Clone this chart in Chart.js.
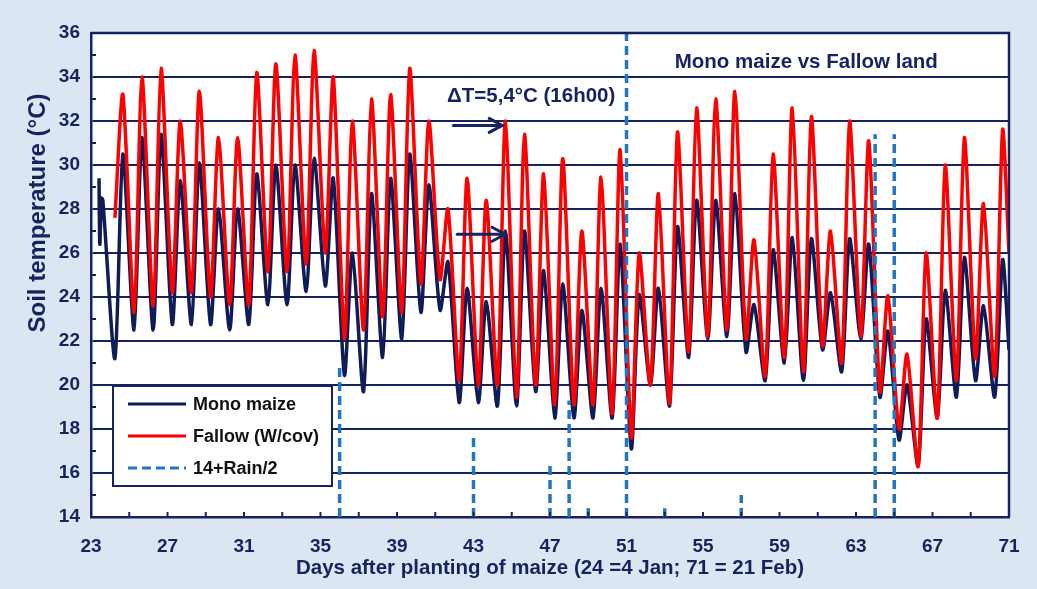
<!DOCTYPE html>
<html>
<head>
<meta charset="utf-8">
<script src="https://cdn.jsdelivr.net/npm/chart.js@4.4.1/dist/chart.umd.min.js"></script>
<style>
  html, body { margin: 0; padding: 0; background: #dce6f2; }
</style>
</head>
<body>
<canvas id="myChart" width="1037" height="589"></canvas>
<script>
// days after planting, one daily cycle each (min ~06h00, max ~16h00)
const days = Array.from({ length: 47 }, (_, i) => 24 + i);   // 24 .. 70

// Mono maize soil temperature (°C)
const maizeMin = [21.2, 22.5, 22.5, 22.75, 22.75, 22.75, 22.5, 22.75, 23.65, 23.65,
                  24.25, 24.5, 20.45, 19.7, 21.25, 22.1, 23.3, 23.4, 19.2, 19.2,
                  19.05, 19.05, 19.7, 18.5, 18.5, 18.5, 18.5, 17.1, 20.0, 19.05,
                  21.25, 22.1, 22.2, 21.5, 20.2, 21.0, 20.2, 21.6, 20.6, 22.1,
                  19.45, 17.5, 16.35, 18.5, 19.45, 20.2, 19.45];
const maizeMax = [30.5, 31.25, 31.4, 29.3, 30.1, 28.0, 28.0, 29.6, 30.0, 30.0,
                  30.3, 29.4, 26.0, 28.7, 29.4, 30.5, 29.1, 25.6, 24.4, 23.8,
                  27.0, 27.0, 25.2, 24.6, 23.4, 24.4, 26.4, 24.1, 24.4, 27.2,
                  28.4, 28.4, 28.7, 23.65, 26.15, 26.7, 26.65, 24.2, 26.65, 26.4,
                  22.45, 20.0, 23.0, 24.3, 25.8, 23.6, 25.7];
// first readings of day 23 and last reading at day 71
const maizeStartX = [23.42, 23.46, 23.55, 23.62];
const maizeStartY = [29.4, 26.4, 28.5, 28.4];
const maizeEnd = 21.6;

// Fallow (without cover) soil temperature (°C)
const fallowMin = [27.6, 23.3, 23.6, 24.2, 24.2, 24.0, 23.65, 23.65, 25.15, 25.15,
                   25.5, 26.0, 22.1, 22.5, 23.1, 23.3, 24.6, 24.8, 20.2, 20.0,
                   20.0, 19.45, 20.0, 19.1, 19.1, 19.1, 18.7, 17.6, 20.0, 19.15,
                   21.5, 22.2, 22.5, 22.1, 20.4, 21.25, 20.6, 21.8, 21.0, 22.2,
                   19.7, 18.0, 16.3, 18.5, 20.2, 21.2, 20.4];
const fallowMax = [33.2, 34.0, 34.4, 32.0, 33.35, 31.25, 31.25, 34.2, 34.6, 35.0,
                   35.2, 34.0, 32.0, 33.0, 33.2, 34.4, 32.0, 28.0, 29.4, 28.4,
                   32.0, 31.4, 29.6, 30.3, 27.0, 29.45, 30.7, 26.0, 28.7, 31.5,
                   32.6, 33.0, 33.35, 26.6, 30.5, 32.6, 32.2, 27.0, 32.0, 31.1,
                   24.05, 21.4, 26.0, 30.0, 31.25, 28.25, 31.6];
const fallowEnd = 26.0;

// rainfall events (mm), plotted as 14 + Rain/2
const rainDays = [36, 43, 47, 48, 49, 51, 53, 57, 64, 65];
const rainMm   = [13.8, 7.2, 5.0, 10.6, 0.8, 46, 0.8, 2.0, 34.8, 34.8];

const xTickLabels = [23, 27, 31, 35, 39, 43, 47, 51, 55, 59, 63, 67, 71];
const minHour = 6, maxHour = 16;

const navy = '#17235e';
const maizeColor = '#0f1c58';
const fallowColor = '#ff0000';
const rainColor = '#2277c4';
const fontFamily = '"Liberation Sans", Arial, sans-serif';

function cycle(mins, maxs, endValue) {
  const pts = [];
  days.forEach((d, i) => {
    pts.push({ x: d + minHour / 24, y: mins[i] });
    pts.push({ x: d + maxHour / 24, y: maxs[i] });
  });
  pts.push({ x: 71, y: endValue });
  return pts;
}

const maizePoints = maizeStartX.map((x, i) => ({ x: x, y: maizeStartY[i] }))
  .concat(cycle(maizeMin, maizeMax, maizeEnd));
const fallowPoints = cycle(fallowMin, fallowMax, fallowEnd);

const rainPoints = [];
rainDays.forEach((d, i) => {
  rainPoints.push({ x: d, y: 14 });
  rainPoints.push({ x: d, y: 14 + rainMm[i] / 2 });
  rainPoints.push({ x: d, y: null });
});

const decor = {
  id: 'decor',
  beforeDraw(chart) {
    const { ctx, chartArea: a } = chart;
    ctx.save();
    ctx.fillStyle = '#dce6f2';
    ctx.fillRect(0, 0, chart.width, chart.height);
    ctx.fillStyle = '#ffffff';
    ctx.fillRect(a.left, a.top, a.right - a.left, a.bottom - a.top);
    ctx.restore();
  },
  afterDraw(chart) {
    const { ctx, chartArea: a, scales } = chart;
    const xs = scales.x, ys = scales.y;
    ctx.save();
    ctx.strokeStyle = navy;
    ctx.lineWidth = 2;
    // inward minor ticks
    for (let d = 25; d < 71; d += 2) {
      const px = xs.getPixelForValue(d);
      ctx.beginPath(); ctx.moveTo(px, a.bottom); ctx.lineTo(px, a.bottom - 5); ctx.stroke();
    }
    for (let v = 15; v < 36; v += 2) {
      const py = ys.getPixelForValue(v);
      ctx.beginPath(); ctx.moveTo(a.left, py); ctx.lineTo(a.left + 5, py); ctx.stroke();
    }
    // top and right frame
    ctx.lineWidth = 2.5;
    ctx.beginPath();
    ctx.moveTo(a.left, a.top); ctx.lineTo(a.right, a.top); ctx.lineTo(a.right, a.bottom);
    ctx.stroke();

    // y axis title
    ctx.save();
    ctx.translate(38, 213);
    ctx.rotate(-Math.PI / 2);
    ctx.fillStyle = navy;
    ctx.font = 'bold 24px ' + fontFamily;
    ctx.textAlign = 'center';
    ctx.textBaseline = 'middle';
    ctx.fillText('Soil temperature (\u00b0C)', 0, 0);
    ctx.restore();

    // legend box
    const lx = a.left + 22, ly = a.top + 353, lw = 219, lh = 100;
    ctx.fillStyle = '#ffffff';
    ctx.fillRect(lx, ly, lw, lh);
    ctx.lineWidth = 2;
    ctx.strokeRect(lx, ly, lw, lh);
    ctx.font = 'bold 18px ' + fontFamily;
    ctx.textBaseline = 'middle';
    ctx.textAlign = 'left';
    chart.data.datasets.forEach((ds, i) => {
      const ry = ly + 18 + i * 32;
      ctx.strokeStyle = ds.borderColor;
      ctx.lineWidth = 3;
      ctx.setLineDash(ds.borderDash || []);
      ctx.beginPath(); ctx.moveTo(lx + 15, ry); ctx.lineTo(lx + 73, ry); ctx.stroke();
      ctx.setLineDash([]);
      ctx.fillStyle = '#111111';
      ctx.fillText(ds.label, lx + 80, ry + 1);
    });

    // annotations
    ctx.fillStyle = navy;
    ctx.font = 'bold 20.5px ' + fontFamily;
    ctx.textAlign = 'center';
    ctx.fillText('Mono maize vs Fallow land', xs.getPixelForValue(60.4), ys.getPixelForValue(34.68));
    ctx.textAlign = 'left';
    ctx.fillText('\u0394T=5,4\u00b0C (16h00)', xs.getPixelForValue(41.62), ys.getPixelForValue(33.1));

    function arrow(x0, x1, yv) {
      const p0 = xs.getPixelForValue(x0), p1 = xs.getPixelForValue(x1), py = ys.getPixelForValue(yv);
      ctx.strokeStyle = navy;
      ctx.lineWidth = 3;
      ctx.lineCap = 'round';
      ctx.beginPath(); ctx.moveTo(p0, py); ctx.lineTo(p1, py); ctx.stroke();
      ctx.beginPath();
      ctx.moveTo(p1 - 13, py - 7); ctx.lineTo(p1, py); ctx.lineTo(p1 - 13, py + 7);
      ctx.stroke();
    }
    arrow(41.95, 44.5, 31.8);
    arrow(42.15, 44.65, 26.85);
    ctx.restore();
  }
};

const ctx = document.getElementById('myChart').getContext('2d');
new Chart(ctx, {
  type: 'scatter',
  data: {
    datasets: [{
      label: 'Mono maize',
      data: maizePoints,
      showLine: true,
      borderColor: maizeColor,
      borderWidth: 3.5,
      pointRadius: 0,
      tension: 0.25,
      order: 3
    }, {
      label: 'Fallow (W/cov)',
      data: fallowPoints,
      showLine: true,
      borderColor: fallowColor,
      borderWidth: 3.5,
      pointRadius: 0,
      tension: 0.25,
      order: 2
    }, {
      label: '14+Rain/2',
      data: rainPoints,
      showLine: true,
      spanGaps: false,
      borderColor: rainColor,
      borderWidth: 3.5,
      borderDash: [9, 5],
      pointRadius: 0,
      order: 1
    }]
  },
  options: {
    responsive: false,
    animation: false,
    devicePixelRatio: 1,
    layout: { padding: { left: 0, right: 28, top: 33, bottom: 0 } },
    plugins: {
      legend: { display: false },
      tooltip: { enabled: false }
    },
    scales: {
      x: {
        type: 'linear',
        min: 23,
        max: 71,
        afterBuildTicks: (scale) => { scale.ticks = xTickLabels.map(v => ({ value: v })); },
        afterFit: (scale) => { scale.height = 72; },
        ticks: {
          autoSkip: false,
          maxRotation: 0,
          padding: 10,
          color: navy,
          font: { family: fontFamily, size: 19, weight: 'bold' }
        },
        grid: { display: false },
        border: { color: navy, width: 2.5 },
        title: {
          display: true,
          text: 'Days after planting of maize (24 =4 Jan; 71 = 21 Feb)',
          color: navy,
          font: { family: fontFamily, size: 20.5, weight: 'bold' },
          padding: { top: 0, bottom: 8 }
        }
      },
      y: {
        min: 14,
        max: 36,
        afterFit: (scale) => { scale.width = 91; },
        ticks: {
          stepSize: 2,
          padding: 11,
          color: navy,
          font: { family: fontFamily, size: 19, weight: 'bold' }
        },
        grid: { color: navy, lineWidth: 2, drawTicks: false },
        border: { color: navy, width: 2.5 }
      }
    }
  },
  plugins: [decor]
});
</script>
</body>
</html>
